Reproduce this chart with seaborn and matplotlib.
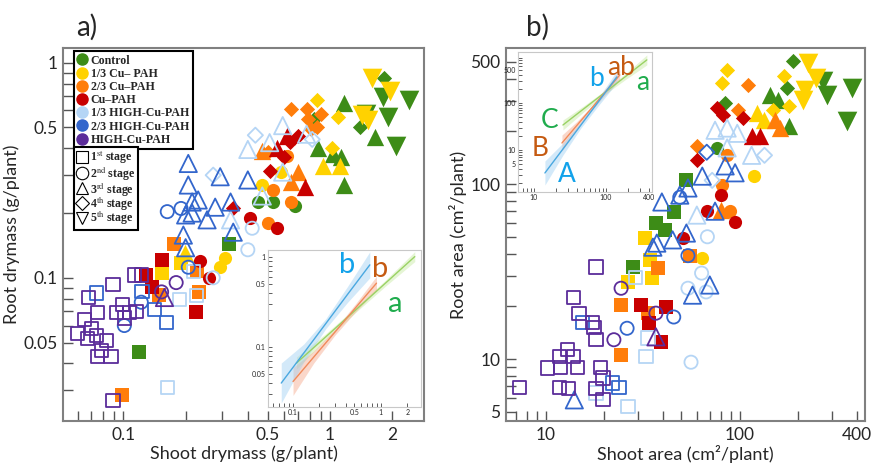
import numpy as np
import pandas as pd
import matplotlib
matplotlib.use('Agg')
import matplotlib.pyplot as plt
import seaborn as sns
from matplotlib.lines import Line2D
from matplotlib.ticker import FixedLocator, FixedFormatter, LogLocator, NullFormatter

sns.set_style('ticks')
plt.rcParams['font.family'] = ['Lato', 'DejaVu Sans']
plt.rcParams['mathtext.fontset'] = 'stix'

# --- donnees : (shoot, root, stade) ---
# panel a) masse seche (g/plante)
a_control = [(1.82, 0.85, 4), (1.80, 0.69, 5), (2.42, 0.67, 5), (1.17, 0.65, 3), (1.50, 0.58, 5),
             (1.90, 0.56, 5), (1.40, 0.50, 4), (1.65, 0.45, 3), (2.08, 0.41, 5), (1.03, 0.375, 3),
             (1.13, 0.365, 3), (1.17, 0.27, 3), (0.87, 0.40, 3), (0.84, 0.55, 4), (0.45, 0.224, 2),
             (0.53, 0.224, 2), (0.68, 0.215, 2), (0.325, 0.143, 1), (0.119, 0.045, 1)]
a_third = [(1.59, 0.85, 5), (1.95, 0.74, 5), (0.86, 0.67, 4), (1.09, 0.56, 4), (1.42, 0.57, 5),
           (1.52, 0.54, 5), (1.02, 0.40, 4), (0.92, 0.33, 3), (1.12, 0.33, 3), (0.47, 0.27, 2),
           (0.58, 0.31, 2), (0.31, 0.124, 2), (0.294, 0.112, 2), (0.199, 0.13, 3), (0.154, 0.105, 1),
           (0.19, 0.117, 1)]
a_twothird = [(0.65, 0.61, 4), (0.77, 0.61, 4), (0.90, 0.58, 4), (0.78, 0.545, 4), (0.86, 0.50, 4),
              (0.81, 0.49, 4), (0.47, 0.39, 3), (0.50, 0.385, 4), (0.62, 0.37, 2), (0.70, 0.31, 3),
              (0.65, 0.28, 3), (0.53, 0.255, 2), (0.65, 0.224, 2), (0.50, 0.18, 2), (0.176, 0.143, 1),
              (0.226, 0.107, 1), (0.232, 0.086, 1), (0.149, 0.083, 1), (0.098, 0.0286, 1)]
a_full = [(0.64, 0.43, 4), (0.70, 0.455, 4), (0.62, 0.455, 3), (0.555, 0.40, 3), (0.60, 0.365, 4),
          (0.51, 0.315, 4), (0.76, 0.265, 3), (0.34, 0.21, 4), (0.41, 0.19, 2), (0.555, 0.17, 2),
          (0.235, 0.12, 2), (0.26, 0.10, 2), (0.154, 0.121, 1), (0.129, 0.103, 1), (0.138, 0.091, 1),
          (0.225, 0.069, 1)]
a_high_third = [(0.435, 0.46, 4), (0.40, 0.395, 3), (0.59, 0.51, 3), (0.51, 0.425, 3), (0.77, 0.465, 3),
                (0.82, 0.44, 4), (0.59, 0.31, 3), (0.47, 0.24, 3), (0.272, 0.30, 4), (0.33, 0.186, 3),
                (0.42, 0.17, 2), (0.40, 0.135, 2), (0.272, 0.10, 2), (0.218, 0.107, 1), (0.225, 0.083, 1),
                (0.186, 0.079, 1), (0.163, 0.031, 1)]
a_high_twothird = [(0.206, 0.34, 3), (0.294, 0.295, 3), (0.40, 0.285, 3), (0.206, 0.27, 3), (0.163, 0.203, 2),
                   (0.19, 0.21, 2), (0.215, 0.225, 3), (0.23, 0.23, 3), (0.20, 0.196, 3), (0.215, 0.20, 3),
                   (0.278, 0.213, 3), (0.33, 0.225, 3), (0.254, 0.186, 3), (0.195, 0.158, 3), (0.34, 0.163, 3),
                   (0.20, 0.138, 3), (0.206, 0.112, 2), (0.122, 0.077, 2), (0.101, 0.060, 2), (0.123, 0.086, 1),
                   (0.074, 0.085, 1), (0.141, 0.071, 1), (0.161, 0.062, 1)]
a_high = [(0.113, 0.103, 1), (0.122, 0.103, 1), (0.153, 0.086, 2), (0.158, 0.081, 3), (0.18, 0.095, 2),
          (0.089, 0.093, 1), (0.068, 0.081, 1), (0.099, 0.075, 1), (0.075, 0.069, 1), (0.093, 0.069, 1),
          (0.107, 0.069, 1), (0.116, 0.0695, 1), (0.101, 0.065, 1), (0.065, 0.064, 1), (0.060, 0.055, 1),
          (0.070, 0.058, 1), (0.074, 0.054, 1), (0.067, 0.052, 1), (0.083, 0.051, 1), (0.078, 0.046, 1),
          (0.075, 0.043, 1), (0.087, 0.043, 1), (0.089, 0.027, 1)]

# panel b) surface (cm2/plante)
b_control = [(188, 505, 4), (176, 354, 4), (268, 388, 5), (281, 322, 5), (378, 354, 5), (143, 322, 3),
             (157, 302, 3), (356, 229, 5), (84, 290, 4), (180, 214, 3), (76, 161, 2), (53, 105, 1),
             (46, 69, 1), (37, 60, 1), (41, 55, 1), (28, 33.6, 1)]
b_third = [(226, 490, 5), (86, 448, 4), (81, 378, 4), (168, 414, 4), (247, 404, 5), (216, 345, 5),
           (211, 302, 5), (180, 279, 4), (123, 255, 3), (148, 265, 4), (133, 231, 3), (119, 111, 2),
           (64, 38, 2), (34.4, 37, 1), (35.2, 29, 1), (26.4, 27.6, 1), (32.4, 49, 1)]
b_twothird = [(110, 369, 4), (98, 265, 4), (151, 232, 3), (161, 209, 3), (60, 165, 4), (86, 147, 2),
              (80, 71, 3), (81, 99, 2), (89, 70, 2), (55, 39, 1), (38, 33, 1), (24.4, 20.4, 1),
              (33.6, 18.3, 1), (24.4, 10.6, 1)]
b_full = [(76, 272, 4), (104, 238, 4), (82, 248, 4), (115, 188, 3), (127, 188, 3), (60, 137, 4),
          (80, 87, 2), (67.5, 70, 2), (94, 60.7, 2), (51, 49, 2), (31, 20.4, 1), (41.6, 19.8, 1),
          (34, 16, 1), (39, 12.5, 1)]
b_high_third = [(74.5, 203, 3), (86, 209, 3), (97, 195, 3), (86, 161, 3), (115, 146, 3), (134, 146, 4),
                (72, 105, 4), (60, 66.5, 3), (68, 50, 2), (63.5, 31, 2), (54, 25.4, 2), (67, 24.2, 2),
                (56, 9.6, 2), (29, 29.4, 1), (33.6, 13.2, 1), (32.8, 10.4, 1), (18.1, 6.4, 1), (26.5, 5.35, 1)]
b_high_twothird = [(67.5, 152, 4), (84, 127, 3), (94.5, 116, 3), (64, 111, 3), (74.5, 70, 3), (39.6, 79, 3),
                   (49, 86.5, 3), (54, 95, 3), (49, 84, 2), (37.3, 46, 3), (35.6, 43.6, 3), (45, 48, 3),
                   (53, 52.5, 3), (54, 39, 2), (57, 23.2, 3), (70, 26.5, 3), (45.6, 17.4, 2), (26.2, 15, 2),
                   (15.5, 16.2, 1), (22, 7.3, 1), (23.8, 6.85, 1), (14, 5.85, 3)]
b_high = [(18.1, 33.6, 1), (24.4, 25.4, 2), (13.8, 22.6, 1), (36.9, 18.3, 2), (14.8, 18.3, 1),
          (17.4, 16.2, 1), (17.7, 15.1, 1), (18.1, 12.9, 1), (22.4, 12.9, 2), (36.9, 13.4, 3),
          (12.9, 11.3, 1), (11.7, 10.3, 1), (10.2, 8.9, 1), (11.9, 9.0, 1), (14.6, 9.0, 1),
          (13.9, 10.3, 1), (19.2, 9.0, 1), (7.3, 6.9, 1), (11.7, 6.9, 1), (13.1, 6.8, 1),
          (18.1, 6.8, 1), (19.7, 7.8, 1), (19.7, 5.85, 1)]

# droites de regression des encarts (x, ajustement, borne basse, borne haute)
ia_blue_x = [0.074, 0.133, 0.237, 0.42, 0.75]
ia_blue_y = [0.0395, 0.0849, 0.181, 0.384, 0.815]
ia_blue_lo = [0.0237, 0.0675, 0.159, 0.313, 0.585]
ia_blue_hi = [0.066, 0.107, 0.205, 0.471, 1.14]
ia_orange_x = [0.1007, 0.173, 0.30, 0.52, 0.893]
ia_orange_y = [0.0411, 0.0769, 0.145, 0.274, 0.51]
ia_orange_lo = [0.0288, 0.0659, 0.134, 0.247, 0.427]
ia_orange_hi = [0.0589, 0.0896, 0.156, 0.303, 0.61]
ia_green_x = [0.110, 0.237, 0.52, 1.125, 2.43]
ia_green_y = [0.0659, 0.129, 0.258, 0.509, 1.007]
ia_green_lo = [0.0565, 0.12, 0.242, 0.471, 0.887]
ia_green_hi = [0.0769, 0.14, 0.275, 0.55, 1.145]

ib_blue_x = [14.2, 25.3, 45, 80, 142]
ib_blue_y = [3.25, 10.5, 34, 110, 357]
ib_blue_lo = [1.8, 7.8, 29.4, 90.6, 267]
ib_blue_hi = [5.84, 14.1, 39.4, 134, 480]
ib_orange_x = [24.5, 38.9, 61.9, 98.4, 156]
ib_orange_y = [14.1, 32.4, 74.5, 171, 394]
ib_orange_lo = [9.5, 26.7, 67.6, 148, 308]
ib_orange_hi = [20.8, 39.4, 82.2, 199, 504]
ib_green_x = [25.3, 49.5, 96.8, 190, 371]
ib_green_y = [34, 75.5, 167, 371, 822]
ib_green_lo = [26.7, 65.2, 152, 320, 644]
ib_green_hi = [43.5, 87.3, 184, 430, 1050]

TREATMENTS = ["Control", "1/3 Cu\u2013 PAH", "2/3 Cu\u2013PAH", "Cu\u2013PAH",
              "1/3 HIGH-Cu-PAH", "2/3 HIGH-Cu-PAH", "HIGH-Cu-PAH"]
COLORS = ['#3d8c17', '#ffd200', '#ff7d0a', '#c80000', '#b5d5f5', '#3366cc', '#5b2c9a']
HOLLOW = [False, False, False, False, True, True, True]
STAGE_LABELS = [r"1$^{\mathrm{st}}$ stage", r"2$^{\mathrm{nd}}$ stage", r"3$^{\mathrm{rd}}$ stage",
                r"4$^{\mathrm{th}}$ stage", r"5$^{\mathrm{th}}$ stage"]
MARKERS = {1: 's', 2: 'o', 3: '^', 4: 'D', 5: 'v'}
SIZES = {1: 90, 2: 90, 3: 155, 4: 60, 5: 200}

FIT_BLUE, FIT_ORANGE, FIT_GREEN = '#4aa8e0', '#f08a5a', '#9ad264'
BAND_BLUE, BAND_ORANGE, BAND_GREEN = '#9fd0f2', '#f6a88a', '#c6eaa0'
TXT_BLUE, TXT_BROWN, TXT_GREEN = '#12a2ea', '#c55a11', '#1fac4d'

fig = plt.figure(figsize=(8.75, 4.66), dpi=100)
ax_a = fig.add_axes([0.072, 0.0966, 0.4126, 0.8004])
ax_b = fig.add_axes([0.578, 0.0966, 0.4103, 0.8004])


def draw_points(ax, groups):
    for pts, color, hollow in zip(groups, COLORS, HOLLOW):
        df = pd.DataFrame(pts, columns=['x', 'y', 'stage'])
        for st, sub in df.groupby('stage'):
            if hollow:
                kw = dict(facecolor='none', edgecolor=color, linewidth=1.3)
            else:
                kw = dict(edgecolor=color, linewidth=0)
            sns.scatterplot(data=sub, x='x', y='y', marker=MARKERS[st], s=SIZES[st],
                            color=color, legend=False, ax=ax, **kw)


def setup_log(ax, xlim, ylim, xt, xtl, yt, ytl, labelsize, length, width, color):
    ax.set_xscale('log')
    ax.set_yscale('log')
    ax.set_xlim(xlim)
    ax.set_ylim(ylim)
    ax.xaxis.set_major_locator(FixedLocator(xt))
    ax.xaxis.set_major_formatter(FixedFormatter(xtl))
    ax.yaxis.set_major_locator(FixedLocator(yt))
    ax.yaxis.set_major_formatter(FixedFormatter(ytl))
    for axis in (ax.xaxis, ax.yaxis):
        axis.set_minor_locator(LogLocator(base=10, subs=np.arange(2, 10)))
        axis.set_minor_formatter(NullFormatter())
    ax.tick_params(which='both', direction='in', length=length, width=width, color=color,
                   top=False, right=False, bottom=True, left=True, labelsize=labelsize)
    for s in ax.spines.values():
        s.set_visible(True)


# ---- panel a
draw_points(ax_a, [a_control, a_third, a_twothird, a_full, a_high_third, a_high_twothird, a_high])
setup_log(ax_a, (0.051, 2.85), (0.0216, 1.17), [0.1, 0.5, 1, 2], ['0.1', '0.5', '1', '2'],
          [0.05, 0.1, 0.5, 1], ['0.05', '0.1', '0.5', '1'], 12.5, 7, 1, '#555555')
ax_a.set_xlabel("Shoot drymass (g/plant)", fontsize=13, labelpad=2)
ax_a.set_ylabel("Root drymass (g/plant)", fontsize=13, labelpad=2)

# ---- panel b
draw_points(ax_b, [b_control, b_third, b_twothird, b_full, b_high_third, b_high_twothird, b_high])
setup_log(ax_b, (6.2, 441), (4.43, 599), [10, 100, 400], ['10', '100', '400'],
          [5, 10, 100, 500], ['5', '10', '100', '500'], 12.5, 7, 1, '#555555')
ax_b.set_xlabel("Shoot area (cm\u00b2/plant)", fontsize=13, labelpad=2)
ax_b.set_ylabel("Root area (cm\u00b2/plant)", fontsize=13, labelpad=2)

for ax in (ax_a, ax_b):
    ax.tick_params(axis='both', pad=4)
    for s in ax.spines.values():
        s.set_color('#808080')
        s.set_linewidth(1.5)

# ---- legendes
leg_font = {'family': 'Liberation Serif', 'weight': 'bold', 'size': 8.6}
trt_handles = [Line2D([], [], linestyle='none', marker='o', markersize=8,
                      markerfacecolor=c, markeredgecolor=c) for c in COLORS]
leg1 = ax_a.legend(trt_handles, TREATMENTS, loc='upper left', bbox_to_anchor=(0.03, 0.992),
                   prop=leg_font, frameon=True, fancybox=False, edgecolor='black', framealpha=1,
                   borderpad=0.3, labelspacing=0.1, handlelength=0.8, handletextpad=0.3,
                   borderaxespad=0)
leg1.get_frame().set_linewidth(1.5)
ax_a.add_artist(leg1)
stage_handles = [Line2D([], [], linestyle='none', marker=MARKERS[k], markersize=9 if k != 4 else 7,
                        markerfacecolor='none', markeredgecolor='black', markeredgewidth=0.8)
                 for k in range(1, 6)]
leg2 = ax_a.legend(stage_handles, STAGE_LABELS, loc='upper left', bbox_to_anchor=(0.03, 0.735),
                   prop=leg_font, frameon=True, fancybox=False, edgecolor='black', framealpha=1,
                   borderpad=0.25, labelspacing=-0.2, handlelength=0.8, handletextpad=0.3,
                   borderaxespad=0)
leg2.get_frame().set_linewidth(1.5)

# ---- encart a
ins_a = fig.add_axes([0.306, 0.127, 0.175, 0.337])
ins_a.set_facecolor('white')
for xs, ys, lo, hi, lc, bc in [(ia_green_x, ia_green_y, ia_green_lo, ia_green_hi, FIT_GREEN, BAND_GREEN),
                               (ia_orange_x, ia_orange_y, ia_orange_lo, ia_orange_hi, FIT_ORANGE, BAND_ORANGE),
                               (ia_blue_x, ia_blue_y, ia_blue_lo, ia_blue_hi, FIT_BLUE, BAND_BLUE)]:
    ins_a.fill_between(xs, lo, hi, color=bc, alpha=0.45, linewidth=0)
    sns.lineplot(x=xs, y=ys, color=lc, linewidth=1, ax=ins_a)
setup_log(ins_a, (0.052, 2.85), (0.0215, 1.2), [0.1, 0.5, 1, 2], ['0.1', '0.5', '1', '2'],
          [0.05, 0.1, 0.5, 1], ['0.05', '0.1', '0.5', '1'], 5, 3, 0.6, '#444444')
ins_a.tick_params(pad=1.5)
for s in ins_a.spines.values():
    s.set_color('#c8c8c8')
    s.set_linewidth(0.8)
ins_a.text(0.414, 0.815, 'b', color=TXT_BLUE, fontsize=21, ha='center', va='center')
ins_a.text(0.99, 0.735, 'b', color=TXT_BROWN, fontsize=21, ha='center', va='center')
ins_a.text(1.47, 0.30, 'a', color=TXT_GREEN, fontsize=21, ha='center', va='center')

# ---- encart b
ins_b = fig.add_axes([0.592, 0.588, 0.153, 0.30])
ins_b.set_facecolor('white')
for xs, ys, lo, hi, lc, bc in [(ib_green_x, ib_green_y, ib_green_lo, ib_green_hi, FIT_GREEN, BAND_GREEN),
                               (ib_orange_x, ib_orange_y, ib_orange_lo, ib_orange_hi, FIT_ORANGE, BAND_ORANGE),
                               (ib_blue_x, ib_blue_y, ib_blue_lo, ib_blue_hi, FIT_BLUE, BAND_BLUE)]:
    ins_b.fill_between(xs, lo, hi, color=bc, alpha=0.45, linewidth=0)
    sns.lineplot(x=xs, y=ys, color=lc, linewidth=1, ax=ins_b)
setup_log(ins_b, (6.0, 436), (1.28, 1200), [10, 100, 400], ['10', '100', '400'],
          [5, 10, 100, 500], ['5', '10', '100', '500'], 5, 3, 0.6, '#444444')
ins_b.tick_params(pad=1.5)
for s in ins_b.spines.values():
    s.set_color('#c8c8c8')
    s.set_linewidth(0.8)
ins_b.text(16.5, 42.8, 'C', color=TXT_GREEN, fontsize=19, ha='center', va='center')
ins_b.text(12.1, 10.7, 'B', color=TXT_BROWN, fontsize=19, ha='center', va='center')
ins_b.text(28.7, 2.98, 'A', color=TXT_BLUE, fontsize=19, ha='center', va='center')
ins_b.text(74.3, 329, 'b', color=TXT_BLUE, fontsize=19, ha='center', va='center')
ins_b.text(161, 556, 'ab', color=TXT_BROWN, fontsize=19, ha='center', va='center')
ins_b.text(330, 267, 'a', color=TXT_GREEN, fontsize=19, ha='center', va='center')

# ---- etiquettes de panneaux
fig.text(0.0994, 0.942, 'a)', fontsize=20, ha='center', va='center')
fig.text(0.614, 0.942, 'b)', fontsize=20, ha='center', va='center')

fig.savefig('out.png', dpi=100)
plt.close(fig)
